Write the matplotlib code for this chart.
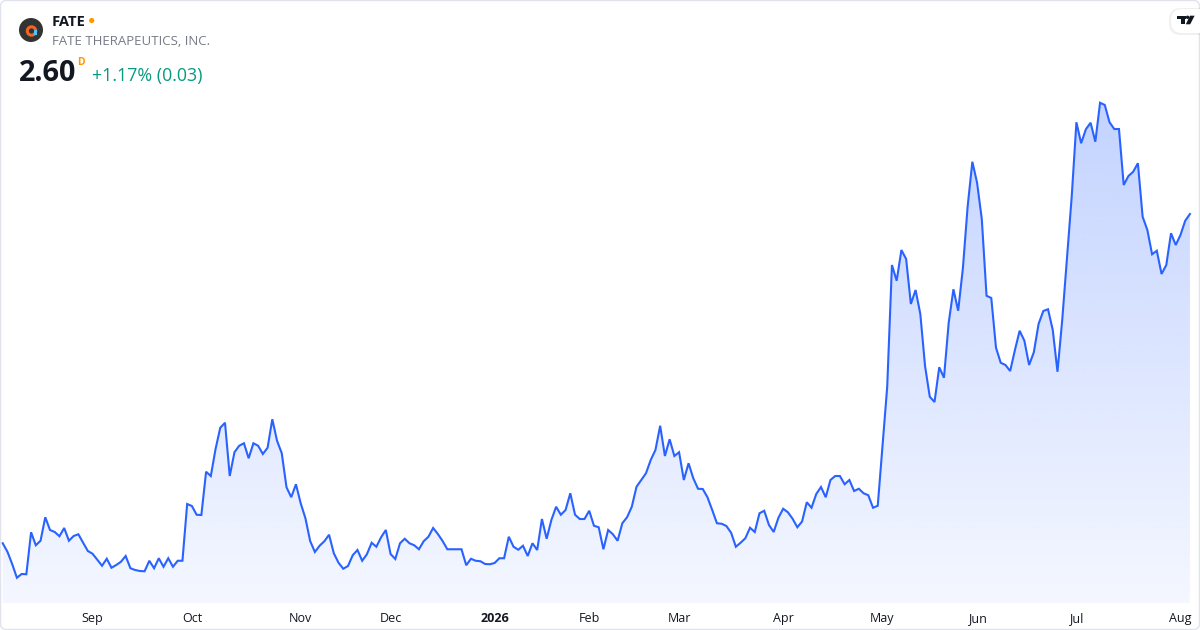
import matplotlib
matplotlib.use("Agg")
import matplotlib.pyplot as plt
import numpy as np
import pandas as pd
from matplotlib.patches import FancyBboxPatch, Circle, Rectangle, Polygon
from matplotlib.transforms import Affine2D

plt.rcParams["font.family"] = ["Open Sans", "DejaVu Sans"]

W, H = 1200, 630

symbol = "FATE"
company = "FATE THERAPEUTICS, INC."
last_price = "2.60"
interval = "D"
change_text = "+1.17% (0.03)"

# NYSE holidays inside the window
holidays = ["2025-09-01", "2025-11-27", "2025-12-25", "2026-01-01", "2026-01-19",
            "2026-02-16", "2026-04-03", "2026-05-25", "2026-06-19", "2026-07-03"]
dates = pd.bdate_range("2025-08-05", "2026-08-05")
dates = dates[~dates.isin(pd.to_datetime(holidays))]

# daily close
close = [
    1.283, 1.249, 1.200, 1.145, 1.160, 1.159, 1.327, 1.275, 1.293, 1.387,
    1.336, 1.328, 1.311, 1.344, 1.293, 1.312, 1.319, 1.285, 1.252, 1.241,
    1.217, 1.193, 1.221, 1.185, 1.196, 1.209, 1.232, 1.183, 1.176, 1.172,
    1.171, 1.213, 1.183, 1.223, 1.189, 1.223, 1.189, 1.213, 1.213, 1.440,
    1.432, 1.397, 1.396, 1.569, 1.552, 1.660, 1.745, 1.765, 1.552, 1.647,
    1.673, 1.683, 1.623, 1.683, 1.673, 1.640, 1.665, 1.779, 1.693, 1.643,
    1.507, 1.467, 1.519, 1.443, 1.383, 1.292, 1.248, 1.273, 1.291, 1.317,
    1.243, 1.205, 1.181, 1.192, 1.235, 1.256, 1.213, 1.239, 1.285, 1.269,
    1.307, 1.336, 1.240, 1.220, 1.283, 1.301, 1.283, 1.275, 1.259, 1.291,
    1.309, 1.344, 1.320, 1.292, 1.259, 1.259, 1.259, 1.259, 1.195, 1.221,
    1.213, 1.211, 1.200, 1.199, 1.204, 1.223, 1.223, 1.309, 1.269, 1.257,
    1.273, 1.232, 1.283, 1.256, 1.380, 1.301, 1.376, 1.429, 1.397, 1.416,
    1.483, 1.397, 1.380, 1.380, 1.413, 1.353, 1.347, 1.259, 1.336, 1.319,
    1.293, 1.363, 1.387, 1.429, 1.509, 1.536, 1.563, 1.616, 1.656, 1.753,
    1.632, 1.699, 1.632, 1.647, 1.536, 1.603, 1.543, 1.501, 1.500, 1.467,
    1.416, 1.363, 1.361, 1.352, 1.325, 1.269, 1.285, 1.303, 1.345, 1.328,
    1.403, 1.413, 1.356, 1.328, 1.385, 1.421, 1.407, 1.381, 1.347, 1.370,
    1.447, 1.425, 1.480, 1.508, 1.467, 1.536, 1.552, 1.552, 1.519, 1.536,
    1.492, 1.501, 1.483, 1.475, 1.425, 1.433, 1.669, 1.909, 2.396, 2.333,
    2.456, 2.420, 2.240, 2.296, 2.200, 1.992, 1.869, 1.848, 1.987, 1.945,
    2.165, 2.299, 2.213, 2.383, 2.629, 2.809, 2.725, 2.579, 2.273, 2.264,
    2.065, 2.005, 1.996, 1.972, 2.056, 2.133, 2.093, 1.996, 2.047, 2.160,
    2.212, 2.219, 2.136, 1.969, 2.176, 2.424, 2.668, 2.967, 2.883, 2.939,
    2.965, 2.889, 3.045, 3.036, 2.967, 2.940, 2.940, 2.716, 2.752, 2.769,
    2.803, 2.589, 2.536, 2.439, 2.453, 2.360, 2.396, 2.523, 2.476, 2.516,
    2.573, 2.600,
]

n = min(len(dates), len(close))
dates = dates[:n]
close = np.array(close[:n])
x = np.arange(n)

# month ticks at the first session of each month, year label for January
month_start = [i for i in range(1, n) if dates[i].month != dates[i - 1].month]
tick_labels = [str(dates[i].year) if dates[i].month == 1 else dates[i].strftime("%b")
               for i in month_start]

line_color = "#2962ff"
fig = plt.figure(figsize=(W / 100, H / 100), dpi=100, facecolor="white")
ax = fig.add_axes([0, 27 / H, 1, 603 / H])
ax.set_facecolor("white")

xlim = (-2.7 / 4.73, (W - 2.7) / 4.73)
ylim = (1.044, 3.456)

# gradient area under the line
verts = [(x[0], ylim[0])] + list(zip(x, close)) + [(x[-1], ylim[0])]
clip = Polygon(verts, closed=True, facecolor="none", edgecolor="none")
ax.add_patch(clip)
alphas = np.linspace(0.05, 0.28, 256)
grad = np.zeros((256, 1, 4))
grad[:, 0, 0] = 41 / 255
grad[:, 0, 1] = 98 / 255
grad[:, 0, 2] = 1.0
grad[:, 0, 3] = alphas
img = ax.imshow(grad, extent=[xlim[0], xlim[1], ylim[0], close.max()],
                origin="lower", aspect="auto", zorder=1, interpolation="bilinear")
img.set_clip_path(clip)

ax.plot(x, close, color=line_color, lw=1.5, zorder=3, solid_joinstyle="miter")

ax.set_xlim(xlim)
ax.set_ylim(ylim)
ax.set_yticks([])
ax.set_xticks(month_start)
ax.set_xticklabels(tick_labels)
ax.tick_params(axis="x", length=0, pad=6.5, labelsize=9, labelcolor="#131722")
for lab in ax.get_xticklabels():
    if lab.get_text().isdigit():
        lab.set_fontweight("bold")
for s in ax.spines.values():
    s.set_visible(False)

# pixel coordinates, origin at top left
pix = Affine2D().scale(1, -1).translate(0, H)

# card border
fig.patches.append(FancyBboxPatch((0.5, 0.5), W - 1, H - 1,
                                  boxstyle="round,pad=0,rounding_size=6",
                                  transform=pix, facecolor="none",
                                  edgecolor="#e0e3eb", lw=1))

# header logo
fig.patches.append(Circle((31, 30), 12, transform=pix, facecolor="#333333", edgecolor="none"))
fig.patches.append(Circle((31.5, 31), 4.2, transform=pix, facecolor="none",
                          edgecolor="#f26522", lw=2.2))
fig.patches.append(Rectangle((33.5, 29.5), 3.8, 5, transform=pix,
                             facecolor="#4fc3f7", edgecolor="none"))

fig.text(51.5, 26, symbol, transform=pix, fontsize=10.6, fontweight="bold",
         color="#131722", va="baseline", ha="left")
fig.patches.append(Circle((91.7, 20.5), 2.6, transform=pix, facecolor="#ff9800", edgecolor="none"))
fig.text(51.5, 45, company, transform=pix, fontsize=9.5, color="#787b86",
         va="baseline", ha="left")
fig.text(18.5, 81, last_price, transform=pix, fontsize=20.8, fontweight="bold",
         color="#131722", va="baseline", ha="left")
fig.text(77.5, 65, interval, transform=pix, fontsize=7.5, fontweight="bold",
         color="#ff9800", va="baseline", ha="left")
fig.text(91.5, 80.5, change_text, transform=pix, fontsize=12.9, color="#089981",
         va="baseline", ha="left")

# tradingview badge
fig.patches.append(FancyBboxPatch((1169, 8), 45, 27, boxstyle="round,pad=0,rounding_size=12",
                                  transform=pix, facecolor="#000000", alpha=0.06,
                                  edgecolor="none"))
fig.patches.append(FancyBboxPatch((1171, 9), 42, 24, boxstyle="round,pad=0,rounding_size=11",
                                  transform=pix, facecolor="white", edgecolor="none"))
fig.patches.append(Polygon([(1177.3, 15.7), (1186, 15.7), (1186, 19), (1185.3, 19),
                            (1185.3, 24.3), (1181.3, 24.3), (1181.3, 19), (1177.3, 19)],
                           closed=True, transform=pix, facecolor="#131722", edgecolor="none"))
fig.patches.append(Circle((1187.6, 17.3), 1.7, transform=pix, facecolor="#131722", edgecolor="none"))
fig.patches.append(Polygon([(1190, 15.7), (1194.6, 15.7), (1190.2, 24.3), (1185.8, 24.3)],
                           closed=True, transform=pix, facecolor="#131722", edgecolor="none"))

fig.savefig("out.png", dpi=100, facecolor="white")
